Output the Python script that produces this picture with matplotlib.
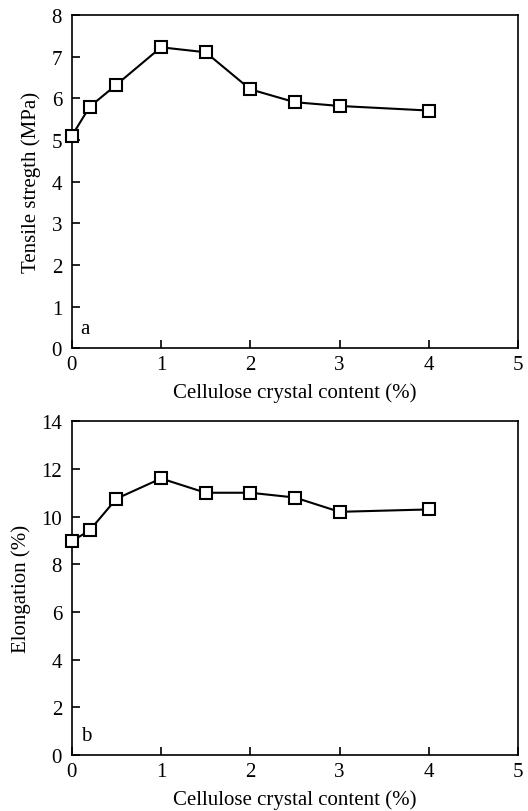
import matplotlib
matplotlib.use("Agg")
import matplotlib.pyplot as plt

plt.rcParams['font.family'] = ['Liberation Serif', 'DejaVu Serif']
plt.rcParams['font.size'] = 15

content = [0, 0.2, 0.5, 1.0, 1.5, 2.0, 2.5, 3.0, 4.0]
tensile = [5.1, 5.8, 6.33, 7.23, 7.11, 6.22, 5.91, 5.82, 5.71]
elongation = [8.97, 9.42, 10.75, 11.6, 11.0, 11.0, 10.8, 10.2, 10.3]

fig = plt.figure(figsize=(5.28, 8.12), dpi=100)
ax1 = fig.add_axes([0.136, 0.570, 0.845, 0.410])
ax2 = fig.add_axes([0.136, 0.069, 0.845, 0.411])

def style(ax, y, ylim, yticks, ylabel, tag, ylab_x):
    ax.plot(content, y, color='black', linewidth=1.5, marker='s', markersize=8.5,
            markerfacecolor='white', markeredgecolor='black', markeredgewidth=1.5,
            clip_on=False, zorder=3)
    ax.set_xlim(0, 5)
    ax.set_ylim(*ylim)
    ax.set_xticks(range(6))
    ax.set_yticks(yticks)
    ax.tick_params(direction='in', length=6, width=1.2, top=False, right=False,
                   labelsize=15)
    ax.tick_params(axis='y', pad=7)
    ax.tick_params(axis='x', pad=5)
    for s in ax.spines.values():
        s.set_linewidth(1.2)
    ax.set_xlabel("Cellulose crystal content (%)", fontsize=15, labelpad=6)
    ax.set_ylabel(ylabel, fontsize=15)
    ax.yaxis.set_label_coords(ylab_x, 0.5)
    ax.text(0.02, 0.03, tag, transform=ax.transAxes, fontsize=15, va='bottom', ha='left')

style(ax1, tensile, (0, 8), range(0, 9), "Tensile stregth (MPa)", "a", -0.070)
style(ax2, elongation, (0, 14), range(0, 15, 2), "Elongation (%)", "b", -0.092)

fig.savefig("out.png", dpi=100)
